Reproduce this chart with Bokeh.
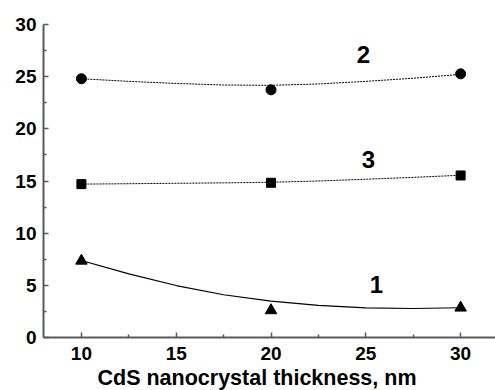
from bokeh.plotting import figure
from bokeh.models import FixedTicker, Range1d, Label, Title
from bokeh.embed import file_html
from bokeh.resources import INLINE

# measured points
thickness = [10, 20, 30]
series1 = [7.35, 2.6, 2.85]      # triangles
series2 = [24.8, 23.74, 25.27]   # circles
series3 = [14.7, 14.83, 15.53]   # squares

# smooth fit curves
fit_x = [10, 12.5, 15, 17.5, 20, 22.5, 25, 27.5, 30]
fit1 = [7.38, 6.1, 4.98, 4.1, 3.48, 3.07, 2.84, 2.78, 2.85]
fit2 = [24.8, 24.55, 24.35, 24.2, 24.17, 24.3, 24.55, 24.85, 25.22]
fit3 = [14.7, 14.74, 14.78, 14.82, 14.88, 15.0, 15.17, 15.35, 15.55]

x_ticks = [10, 15, 20, 25, 30]
x_minor = [12.5, 17.5, 22.5, 27.5]
y_ticks = [0, 5, 10, 15, 20, 25, 30]
y_minor = [2.5, 7.5, 12.5, 17.5, 22.5, 27.5]

curve_labels = ["2", "3", "1"]
label_x = [24.87, 25.14, 25.56]
label_y = [27.1, 17.06, 5.08]

x_title = "CdS nanocrystal thickness, nm"

FONT = "Liberation Sans"

p = figure(width=495, height=390, output_backend="svg", toolbar_location=None,
           x_range=Range1d(8.0, 31.84), y_range=Range1d(0, 30),
           min_border_left=43, min_border_right=0, min_border_top=24, min_border_bottom=53)
p.outline_line_color = None
p.grid.visible = False
p.background_fill_color = "white"
p.border_fill_color = "white"

for ax, major, minor in ((p.xaxis[0], x_ticks, x_minor), (p.yaxis[0], y_ticks, y_minor)):
    ax.ticker = FixedTicker(ticks=major, minor_ticks=minor)
    ax.axis_line_color = "#5a5a5a"
    ax.axis_line_width = 2
    ax.major_tick_line_color = "#5a5a5a"
    ax.minor_tick_line_color = "#5a5a5a"
    ax.major_tick_line_width = 1.5
    ax.minor_tick_line_width = 1.5
    ax.major_tick_in = 5
    ax.major_tick_out = 0
    ax.minor_tick_in = 3
    ax.minor_tick_out = 0
    ax.major_label_text_font = FONT
    ax.major_label_text_font_style = "bold"
    ax.major_label_text_font_size = "19px"
    ax.major_label_text_color = "black"

p.xaxis.major_label_standoff = 9
p.yaxis.major_label_standoff = 7

# fitted curves
p.line(fit_x, fit1, line_color="black", line_width=1.2)
p.line(fit_x, fit2, line_color="black", line_width=1, line_dash="2 1")
p.line(fit_x, fit3, line_color="black", line_width=1, line_dash="2 1")

# markers
p.scatter(thickness, series1, marker="triangle", size=11.5, color="black")
p.scatter(thickness, series2, marker="circle", size=10, color="black")
p.scatter(thickness, series3, marker="square", size=9, color="black")

for t, lx, ly in zip(curve_labels, label_x, label_y):
    p.add_layout(Label(x=lx, y=ly, text=t, text_font=FONT, text_font_style="bold",
                       text_font_size="24px", text_align="center", text_baseline="middle",
                       text_color="black"))

p.add_layout(Title(text=x_title, align="left", offset=54, text_font=FONT,
                   text_font_style="bold", text_font_size="21.5px", text_color="black",
                   standoff=2), "below")

open("out.html", "w").write(file_html(p, INLINE))
